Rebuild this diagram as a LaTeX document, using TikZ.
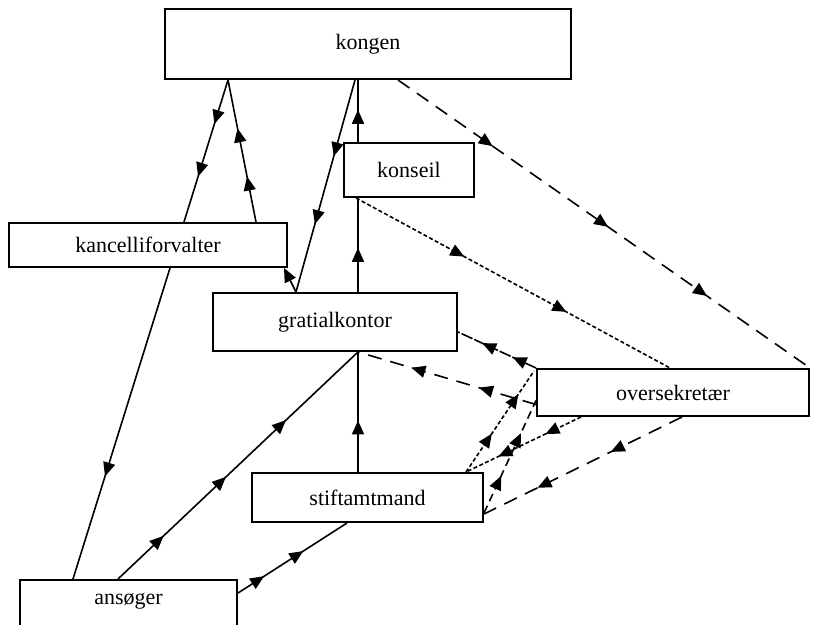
\documentclass[tikz,border=0pt]{standalone}
\usepackage{fontspec}
\setmainfont{Liberation Serif}
\usetikzlibrary{arrows.meta}
\usetikzlibrary{calc}
\usetikzlibrary{decorations.markings}

\tikzset{
    boks/.style={draw, line width=1pt, fill=white, inner sep=0pt,
        font=\fontsize{11}{13}\selectfont},
    spids/.tip={Triangle[length=7pt,width=6pt]},
    pil/.style={postaction={decorate, decoration={markings,
        mark=at position #1 with {\arrow{spids}}}}},
    lang/.style={dash pattern=on 7pt off 4.5pt},
    mellem/.style={dash pattern=on 4pt off 2.5pt},
    prik/.style={dash pattern=on 2pt off 1.2pt},
    tet/.style={dash pattern=on 6pt off 1pt}
}

\begin{document}
\begin{tikzpicture}[x=0.5pt, y=-0.5pt, line width=0.8pt]
        \useasboundingbox (0, 0) rectangle (813, 625);
        \clip (0, 0) rectangle (813, 625);

        % boksene
        \node[boks, minimum width=203pt, minimum height=35pt] (kongen) at (368, 44) {kongen};
        \node[boks, minimum width=65pt, minimum height=27pt] (konseil) at (409, 170) {konseil};
        \node[boks, minimum width=139pt, minimum height=22pt] (kanc) at (148, 245) {kancelliforvalter};
        \node[boks, minimum width=122pt, minimum height=29pt] (gratial) at (335, 322) {gratialkontor};
        \node[boks, minimum width=136pt, minimum height=23.5pt] (ober) at (673, 392.5) {oversekretær};
        \node[boks, minimum width=115.5pt, minimum height=24.5pt] (stift) at (367.5, 497.5) {stiftamtmand};
        \node[boks, minimum width=108.5pt, anchor=north, inner ysep=3pt,
            text height=9pt, text depth=15pt] (ansoger) at (128.5, 579) {ansøger};

        % hele linjer
        \draw[pil=0.31, pil=0.68] ($(kongen.south)+(-140,0)$) -- ($(kanc.north)+(36,0)$);
        \draw[pil=0.67] ($(kanc.south)+(22,0)$) -- ($(ansoger.north)+(-55.5,0)$);
        \draw[pil=0.32, pil=0.66] ($(kanc.north)+(108,0)$) -- ($(kongen.south)+(-140,0)$);
        \draw[pil=0.36, pil=0.68] ($(kongen.south)+(-13,0)$) -- ($(gratial.north)+(-39,0)$);
        \draw[pil=0.52] ($(konseil.north)+(-51,0)$) -- ($(kongen.south)+(-10,0)$);
        \draw[pil=0.47] ($(gratial.north)+(23,0)$) -- ($(konseil.south)+(-51,0)$);
        \draw[-spids] ($(gratial.north)+(-39,0)$) -- ($(kanc.south east)+(-4,0)$);
        \draw[pil=0.43] ($(stift.north)+(-9.5,0)$) -- ($(gratial.south)+(23,0)$);
        \draw[pil=0.19, pil=0.45, pil=0.7] ($(ansoger.north)+(-10.5,0)$) -- ($(gratial.south)+(23,0)$);
        \draw[pil=0.24, pil=0.6] ($(ansoger.north east)+(0,14)$) -- ($(stift.south)+(-20.5,0)$);

        % stiplede linjer
        \draw[lang, pil=0.23, pil=0.51, pil=0.75] ($(kongen.south)+(30,0)$) -- (ober.north east);
        \draw[prik, pil=0.345, pil=0.67] ($(konseil.south west)+(13,0)$) -- ($(ober.north)+(-3,0)$);
        \draw[tet, pil=0.3, pil=0.69] (ober.north west) -- ($(gratial.east)+(0,10)$);
        \draw[lang, pil=0.32, pil=0.7] ($(ober.west)+(0,12)$) -- ($(gratial.south)+(23,0)$);
        \draw[prik, pil=0.38, pil=0.77] ($(stift.north east)+(-18,0)$) -- ($(ober.north west)+(-2,3)$);
        \draw[prik, pil=0.31, pil=0.72] ($(ober.south)+(-92,0)$) -- ($(stift.north east)+(-18,0)$);
        \draw[mellem, pil=0.33, pil=0.71] ($(stift.south east)+(0,-10)$) -- ($(ober.west)+(0,8)$);
        \draw[lang, pil=0.36, pil=0.73] ($(ober.south)+(9,0)$) -- ($(stift.south east)+(0,-9)$);
\end{tikzpicture}
\end{document}
